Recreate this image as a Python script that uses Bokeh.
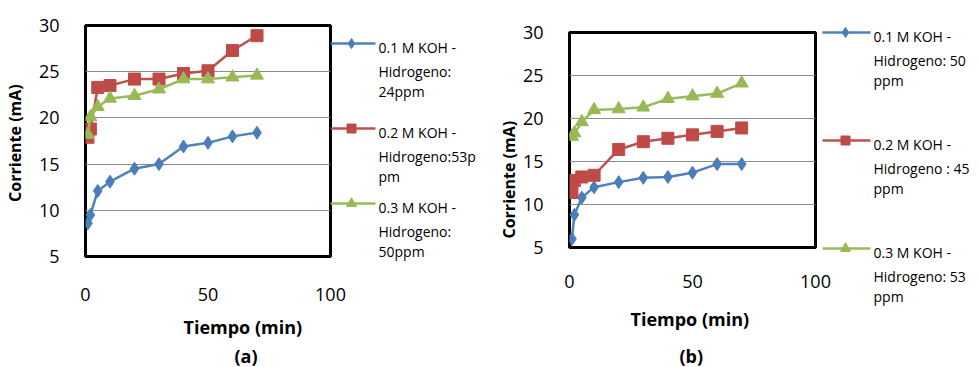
from bokeh.plotting import figure
from bokeh.layouts import row
from bokeh.models import FixedTicker, Title, Range1d
from bokeh.core.properties import value
from bokeh.embed import file_html
from bokeh.resources import INLINE

# ---------------- data ----------------
time_min = [1, 2, 5, 10, 20, 30, 40, 50, 60, 70]
a_koh01 = [8.6, 9.5, 12.1, 13.1, 14.5, 15.0, 16.9, 17.3, 18.0, 18.4]
a_koh02 = [17.9, 18.8, 23.3, 23.5, 24.2, 24.2, 24.8, 25.1, 27.3, 28.9]
a_koh03 = [18.2, 20.1, 21.2, 22.1, 22.4, 23.1, 24.2, 24.2, 24.4, 24.6]
b_koh01 = [6.0, 8.8, 10.8, 12.0, 12.6, 13.1, 13.2, 13.7, 14.7, 14.7]
b_koh02 = [11.4, 12.8, 13.2, 13.4, 16.4, 17.3, 17.7, 18.1, 18.5, 18.9]
b_koh03 = [17.9, 18.3, 19.6, 21.0, 21.1, 21.3, 22.3, 22.6, 22.9, 24.1]
labels_a = [["0.1 M KOH -", "Hidrogeno:", "24ppm"],
            ["0.2 M KOH -", "Hidrogeno:53p", "pm"],
            ["0.3 M KOH -", "Hidrogeno:", "50ppm"]]
labels_b = [["0.1 M KOH -", "Hidrogeno: 50", "ppm"],
            ["0.2 M KOH -", "Hidrogeno : 45", "ppm"],
            ["0.3 M KOH -", "Hidrogeno: 53", "ppm"]]
x_ticks = [0, 50, 100]
y_ticks = [5, 10, 15, 20, 25, 30]

# ---------------- style ----------------
FONT = "Open Sans"
H = 367
line_colors = ["#4F81BD", "#C0504D", "#9BBB59"]
marker_colors = ["#4A7EBB", "#BE4B48", "#98B954"]
markers = ["diamond", "square", "triangle"]
marker_sizes = [13, 12, 13]
legend_marker_sizes = [10, 9, 10]
line_offsets = [4, 28, 48]  # text baselines relative to legend line


def make_chart(width, left, right, top, bottom, series, ylabel,
               t1_off, t2_off, t1_stand, t2_stand, sub, ylab_standoff, xstandoff,
               ylab_as_title=False, ylab_offset=0):
    p = figure(width=width, height=H, output_backend="svg", toolbar_location=None,
               x_range=Range1d(0, 100), y_range=Range1d(5, 30),
               min_border_left=left, min_border_right=right,
               min_border_top=top, min_border_bottom=bottom,
               frame_align=False)
    p.background_fill_color = "white"
    p.border_fill_color = "white"
    p.outline_line_color = "black"
    p.outline_line_width = 3
    p.xgrid.grid_line_color = None
    p.ygrid.grid_line_color = "#8c8c8c"
    p.ygrid.grid_line_width = 1
    p.xaxis.ticker = FixedTicker(ticks=x_ticks)
    p.yaxis.ticker = FixedTicker(ticks=y_ticks)
    for ax in (p.xaxis, p.yaxis):
        ax.axis_line_color = None
        ax.major_tick_line_color = None
        ax.minor_tick_line_color = None
        ax.major_label_text_font = FONT
        ax.major_label_text_font_size = "18px"
        ax.major_label_text_color = "black"
    p.xaxis.major_label_standoff = xstandoff
    p.yaxis.major_label_standoff = 20
    if ylab_as_title:
        yt = Title(text=ylabel, align="left", offset=ylab_offset,
                   text_font=FONT, text_font_size="16px", text_font_style="bold",
                   text_color="black", standoff=ylab_standoff)
        p.add_layout(yt, "left")
    else:
        p.yaxis.axis_label = ylabel
        p.yaxis.axis_label_text_font = FONT
        p.yaxis.axis_label_text_font_size = "16px"
        p.yaxis.axis_label_text_font_style = "bold"
        p.yaxis.axis_label_text_color = "black"
        p.yaxis.axis_label_standoff = ylab_standoff

    t1 = Title(text="Tiempo (min)", align="left", offset=t1_off,
               text_font=FONT, text_font_size="18px", text_font_style="bold",
               text_color="black", standoff=t1_stand)
    t2 = Title(text=sub, align="left", offset=t2_off,
               text_font=FONT, text_font_size="18px", text_font_style="bold",
               text_color="black", standoff=t2_stand)
    p.add_layout(t1, "below")
    p.add_layout(t2, "below")

    for i, ys in enumerate(series):
        p.line(time_min, ys, line_color=line_colors[i], line_width=2.5)
        p.scatter(time_min, ys, marker=markers[i], size=marker_sizes[i],
                  fill_color=marker_colors[i], line_color=marker_colors[i])
    return p


def make_legend(width, labels, x0, x1, xm, xt, ys):
    q = figure(width=width, height=H, output_backend="svg", toolbar_location=None,
               x_range=Range1d(0, width), y_range=Range1d(H, 0),
               x_axis_location=None, y_axis_location=None,
               min_border=0, margin=(0, 0, 0, -20), frame_align=False)
    q.grid.grid_line_color = None
    q.outline_line_color = None
    q.background_fill_color = None
    q.border_fill_color = None
    for i, lab in enumerate(labels):
        y = ys[i]
        q.line([x0, x1], [y, y], line_color=line_colors[i], line_width=2.5)
        q.scatter([xm], [y], marker=markers[i], size=legend_marker_sizes[i],
                  fill_color=marker_colors[i], line_color=marker_colors[i])
        q.text([xt] * 3, [y + o for o in line_offsets], text=lab,
               text_font=value(FONT), text_font_size="14px",
               text_color="black", text_baseline="alphabetic", text_align="left")
    return q


pa = make_chart(350, 83, 20, 25, 111, [a_koh01, a_koh02, a_koh03],
                "Corriente  (mA)", 98, 149, 18, -12, "(a)", 10, 25)
la = make_legend(165, labels_a, 0, 45, 21, 48, [43, 128, 203])
pb = make_chart(340, 71, 20, 32, 120, [b_koh01, b_koh02, b_koh03],
                "Corriente (mA)", 61, 110, 28, -6, "(b)", 0, 21,
                ylab_as_title=True, ylab_offset=9)
lb = make_legend(163, labels_b, 7, 55, 30, 58, [32, 140, 248])

layout = row(pa, la, pb, lb)
open("out.html", "w").write(file_html(layout, INLINE))
